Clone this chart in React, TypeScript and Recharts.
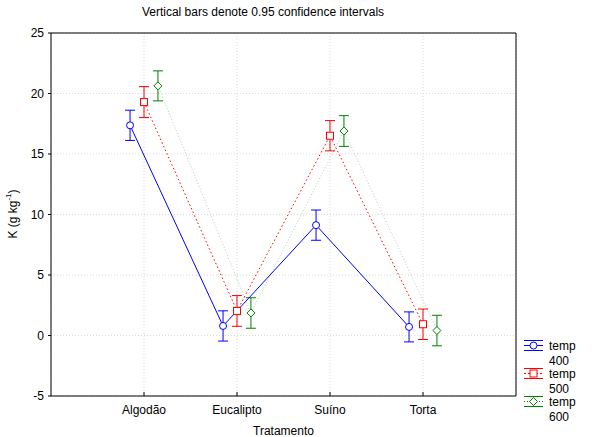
import { ComposedChart, Line, XAxis, YAxis, CartesianGrid, ErrorBar } from 'recharts'

const categories = ['Algodão', 'Eucalipto', 'Suíno', 'Torta']
const yTicks = [-5, 0, 5, 10, 15, 20, 25]
const xTicks = [1, 2, 3, 4]

const temp400 = [17.37, 0.79, 9.12, 0.71]
const temp400Ci = [1.25, 1.25, 1.25, 1.24]
const temp500 = [19.29, 2.03, 16.51, 0.93]
const temp500Ci = [1.28, 1.27, 1.25, 1.26]
const temp600 = [20.63, 1.86, 16.9, 0.41]
const temp600Ci = [1.24, 1.26, 1.27, 1.26]

const FONT = '"Liberation Sans", Arial, sans-serif'
const SHIFT = 0.15

const toRows = (vals: number[], ci: number[], shift: number) =>
  vals.map((v, i) => ({ x: i + 1 + shift, y: v, err: ci[i] }))

const rows400 = toRows(temp400, temp400Ci, -SHIFT)
const rows500 = toRows(temp500, temp500Ci, 0)
const rows600 = toRows(temp600, temp600Ci, SHIFT)

const BLUE = '#0000ff'
const RED = '#ff0000'
const GREEN = '#008000'

const circleDot = (p: any) => (
  <circle key={p.index} cx={p.cx} cy={p.cy} r={3.5} fill="#fff" stroke={BLUE} strokeWidth={1} />
)
const squareDot = (p: any) => (
  <rect key={p.index} x={p.cx - 3.5} y={p.cy - 3.5} width={7} height={7} fill="#fff" stroke={RED} strokeWidth={1} />
)
const diamondDot = (p: any) => (
  <path
    key={p.index}
    d={`M${p.cx},${p.cy - 4}L${p.cx + 4},${p.cy}L${p.cx},${p.cy + 4}L${p.cx - 4},${p.cy}Z`}
    fill="#fff"
    stroke={GREEN}
    strokeWidth={1}
  />
)

const BottomTick = ({ x, y, payload }: any) => (
  <g>
    <line x1={x} y1={y} x2={x} y2={y - 4} stroke="#000" />
    <text x={x} y={y + 18} textAnchor="middle" fontSize={12} fontFamily={FONT} fill="#000">
      {categories[payload.value - 1]}
    </text>
  </g>
)

const TopTick = ({ x, y }: any) => <line x1={x} y1={y} x2={x} y2={y + 4} stroke="#000" />

const RightTick = ({ x, y }: any) => <line x1={x} y1={y} x2={x - 4} y2={y} stroke="#000" />

const YLabel = () => (
  <text
    x={13}
    y={214}
    transform="rotate(-90 13 214)"
    textAnchor="middle"
    dominantBaseline="central"
    fontSize={12}
    fontFamily={FONT}
    fill="#000"
  >
    K (g kg<tspan dy={-5} fontSize={8}>-1</tspan>
    <tspan dy={5}>)</tspan>
  </text>
)

const legendItems = [
  { name: 'temp', sub: '400', color: BLUE, dash: undefined, shape: 'circle' },
  { name: 'temp', sub: '500', color: RED, dash: '2 2', shape: 'square' },
  { name: 'temp', sub: '600', color: GREEN, dash: '1 2', shape: 'diamond' },
]

const LegendBox = () => (
  <svg width={94} height={96} style={{ position: 'absolute', left: 518, top: 332, display: 'block' }}>
    {legendItems.map((it, i) => {
      const cy = 13.5 + i * 28
      const cx = 15.5
      return (
        <g key={it.sub}>
          <line x1={6} y1={cy - 5} x2={25} y2={cy - 5} stroke={it.color} />
          <line x1={6} y1={cy + 5} x2={25} y2={cy + 5} stroke={it.color} />
          <line x1={6} y1={cy} x2={25} y2={cy} stroke={it.color} strokeDasharray={it.dash} />
          {it.shape === 'circle' && <circle cx={cx} cy={cy} r={3.5} fill="#fff" stroke={it.color} />}
          {it.shape === 'square' && (
            <rect x={cx - 3.5} y={cy - 3.5} width={7} height={7} fill="#fff" stroke={it.color} />
          )}
          {it.shape === 'diamond' && (
            <path
              d={`M${cx},${cy - 4}L${cx + 4},${cy}L${cx},${cy + 4}L${cx - 4},${cy}Z`}
              fill="#fff"
              stroke={it.color}
            />
          )}
          <text x={31} y={cy + 4.5} fontSize={12} fontFamily={FONT} fill="#000">
            {it.name}
          </text>
          <text x={31} y={cy + 19.5} fontSize={12} fontFamily={FONT} fill="#000">
            {it.sub}
          </text>
        </g>
      )
    })}
  </svg>
)

export default function App() {
  return (
    <div style={{ position: 'absolute', left: 0, top: 0, width: 614, height: 437, background: '#fff' }}>
      <div
        style={{
          position: 'absolute',
          left: 0,
          width: 526,
          top: 5,
          textAlign: 'center',
          fontFamily: FONT,
          fontSize: 12,
          color: '#000',
        }}
      >
        Vertical bars denote 0.95 confidence intervals
      </div>
      <ComposedChart width={614} height={437} margin={{ top: 32, right: 97, bottom: 0, left: 0 }}>
        <CartesianGrid stroke="#d9d9d9" strokeDasharray="1 2" />
        <XAxis
          type="number"
          dataKey="x"
          domain={[0, 5]}
          ticks={xTicks}
          interval={0}
          height={41}
          tickSize={0}
          tickMargin={0}
          tickLine={false}
          axisLine={{ stroke: '#000' }}
          tick={<BottomTick />}
          label={{
            value: 'Tratamento',
            position: 'insideBottom',
            offset: 2,
            fontSize: 12,
            fontFamily: FONT,
            fill: '#000',
          }}
        />
        <XAxis
          xAxisId="top"
          orientation="top"
          type="number"
          dataKey="x"
          domain={[0, 5]}
          ticks={xTicks}
          interval={0}
          height={1}
          tickSize={0}
          tickMargin={0}
          tickLine={false}
          axisLine={{ stroke: '#000' }}
          tick={<TopTick />}
        />
        <YAxis
          type="number"
          domain={[-5, 25]}
          ticks={yTicks}
          interval={0}
          width={51}
          tickSize={3}
          tickMargin={4}
          tickLine={{ stroke: '#000' }}
          axisLine={{ stroke: '#000' }}
          tick={{ fontSize: 12, fontFamily: FONT, fill: '#000' }}
          label={<YLabel />}
        />
        <YAxis
          yAxisId="right"
          orientation="right"
          type="number"
          domain={[-5, 25]}
          ticks={yTicks}
          interval={0}
          width={1}
          tickSize={0}
          tickMargin={0}
          tickLine={false}
          axisLine={{ stroke: '#000' }}
          tick={<RightTick />}
        />
        <Line
          data={rows600}
          dataKey="y"
          stroke="#a9d8a9"
          strokeWidth={1}
          strokeDasharray="1 2"
          dot={diamondDot}
          isAnimationActive={false}
        >
          <ErrorBar dataKey="err" direction="y" width={5} stroke={GREEN} strokeWidth={1} />
        </Line>
        <Line
          data={rows500}
          dataKey="y"
          stroke={RED}
          strokeWidth={1}
          strokeDasharray="1.5 2.5"
          dot={squareDot}
          isAnimationActive={false}
        >
          <ErrorBar dataKey="err" direction="y" width={5} stroke={RED} strokeWidth={1} />
        </Line>
        <Line
          data={rows400}
          dataKey="y"
          stroke={BLUE}
          strokeWidth={1}
          dot={circleDot}
          isAnimationActive={false}
        >
          <ErrorBar dataKey="err" direction="y" width={5} stroke={BLUE} strokeWidth={1} />
        </Line>
      </ComposedChart>
      <LegendBox />
    </div>
  )
}
